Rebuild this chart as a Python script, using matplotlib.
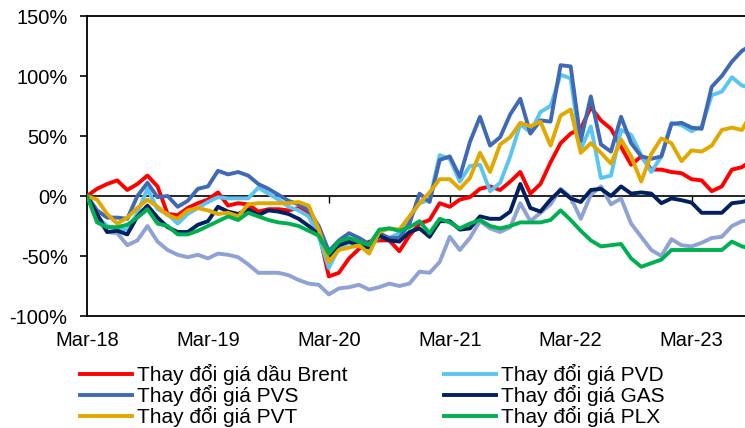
import matplotlib
matplotlib.use("Agg")
import matplotlib.pyplot as plt
import numpy as np

plt.rcParams['font.family'] = ['Liberation Sans', 'DejaVu Sans']

# ---- data (percent change, monthly from Mar-18) ----
brent = [0, 6, 10, 13, 5, 10, 17, 8, -15, -16, -10, -6, -3, 3, -8, -6, -7,
         -13, -11, -11, -12, -10, -15, -30, -67, -64, -52, -44, -38, -37, -37, -46, -33, -23,
         -20, -6, -9, -3, -1, 6, 8, 5, 12, 20, 2, 10, 28, 44,
         52, 56, 74, 63, 56, 41, 26, 33, 22, 22, 20, 19, 14, 13, 4, 8, 22, 24, 30]
pvd = [0, -17, -25, -27, -28, -14, 6, -11, -15, -23, -15, -10, -5, -1, -2, -2, -2,
       7, 2, -3, -9, -12, -17, -34, -60, -43, -39, -42, -43, -34, -35, -31, -18,
       -6, -3, 34, 31, 12, 25, 26, 4, 11, 33, 60, 53, 70, 75, 101, 98,
       39, 58, 15, 17, 55, 51, 34, 20, 33, 61, 59, 54, 58, 84, 87, 99, 92, 90]
pvs = [0, -12, -18, -18, -19, 0, 11, -1, 0, -9, -4, 6, 8, 21, 18, 20, 17,
       10, 6, 1, -4, -7, -12, -25, -46, -37, -31, -35, -40, -31, -35, -35, -23, 2,
       -5, 30, 33, 16, 45, 66, 42, 49, 68, 81, 52, 63, 62, 109, 108,
       46, 83, 43, 37, 66, 44, 33, 31, 33, 60, 61, 57, 56, 91, 100, 112, 121, 126]
gas = [0, -15, -30, -29, -32, -17, -8, -18, -26, -30, -30, -24, -21, -9, -13, -15, -11,
       -16, -12, -13, -15, -19, -25, -32, -50, -41, -38, -41, -43, -33, -37, -38, -30,
       -27, -34, -21, -21, -28, -27, -17, -19, -19, -13, 10, -10, -13, -3, 5,
       -2, -5, 5, 6, 0, 8, 2, 3, 2, -6, -2, -3.5, -5.5, -14, -14, -14, -6, -5, -3]
pvt = [0, -3, -15, -23, -18, -10, -3, -9, -16, -19, -12, -10, -12, -15, -14, -17, -7,
       -6, -6, -6, -6, -5, -8, -28, -55, -45, -43, -41, -48, -30, -27, -28,
       -17, -6, 3, 14, 14, 6, 15, 36, 20, 43, 49, 61, 58, 62, 42, 67, 72,
       36, 44, 36, 27, 47, 33, 12, 35, 48, 44, 29, 38, 37, 42, 55, 57, 55, 70]
plx = [0, -22, -26, -26, -24, -18, -11, -23, -25, -32, -32, -29, -25, -21, -17, -20, -14,
       -17, -20, -22, -23, -25, -29, -33, -48, -38, -35, -38, -41, -28, -27, -29, -26, -21,
       -31, -19, -22, -27, -23, -20, -25, -27, -25, -22, -22, -22, -20, -12, -20,
       -29, -37, -42, -41, -40, -52, -59, -56, -53, -45, -45, -45, -45, -45, -45, -38, -42, -44]
other = [0, -19, -30, -31, -41, -37, -25, -38, -45, -49, -51, -49, -52, -48, -49, -51, -57,
         -64, -64, -64, -66, -70, -73, -74, -82, -77, -76, -74, -78, -76, -73, -75, -73,
         -63, -64, -55, -34, -45, -35, -21, -27, -30, -26, -6, -21, -14, -7, 6, -1,
         -19, 1, 8, -7, -2, -23, -34, -45, -50, -36, -41, -42, -39, -35, -34, -25, -21, -20]

x_labels = ['Mar-18', 'Mar-19', 'Mar-20', 'Mar-21', 'Mar-22', 'Mar-23']
y_ticks = [-100, -50, 0, 50, 100, 150]
y_labels = ['-100%', '-50%', '0%', '50%', '100%', '150%']

labels = ['Thay đổi giá dầu Brent', 'Thay đổi giá PVD', 'Thay đổi giá PVS',
          'Thay đổi giá GAS', 'Thay đổi giá PVT', 'Thay đổi giá PLX']
colors = ['#FF0000', '#5BC5F2', '#4069B5', '#002060', '#E0A800', '#00B050']
series = [brent, pvd, pvs, gas, pvt, plx]

fig = plt.figure(figsize=(7.45, 4.28), dpi=100)
ax = fig.add_axes([87 / 745, 112 / 428, 658 / 745, 300 / 428])

months = np.arange(len(brent))
ax.plot(months, other, color='#8EA2D4', lw=2.8, zorder=2)
handles = []
for s, c, l in zip(series, colors, labels):
    h, = ax.plot(months, s, color=c, lw=2.8, label=l, zorder=3)
    handles.append(h)

ax.set_xlim(0, 65.3)
ax.set_ylim(-100, 150)

ax.set_xticks(np.arange(len(x_labels)) * 12, x_labels)
ax.tick_params(axis='x', length=0, pad=11, labelsize=14.5)
ax.set_yticks(y_ticks, y_labels)
ax.tick_params(axis='y', length=5, width=1.2, pad=9, labelsize=14.5, direction='out')

for sp in ['left', 'top', 'bottom']:
    ax.spines[sp].set_linewidth(1.3)
    ax.spines[sp].set_color('black')
ax.spines['right'].set_visible(False)

sec = ax.secondary_xaxis(0.4)
sec.set_xticks(np.arange(len(x_labels)) * 12)
sec.tick_params(axis='x', length=5, width=1.0, direction='out', labelbottom=False, labeltop=False)
sec.spines['bottom'].set_linewidth(1.2)

order = [0, 2, 4, 1, 3, 5]
leg = fig.legend([handles[i] for i in order], [labels[i] for i in order],
                 loc='upper left', bbox_to_anchor=(80 / 745, 1 - 364 / 428),
                 ncol=2, frameon=False, fontsize=15, handlelength=2.5,
                 handletextpad=0.25, columnspacing=4.6, labelspacing=0.0,
                 borderpad=0, borderaxespad=0)

fig.savefig('out.png', dpi=100)
